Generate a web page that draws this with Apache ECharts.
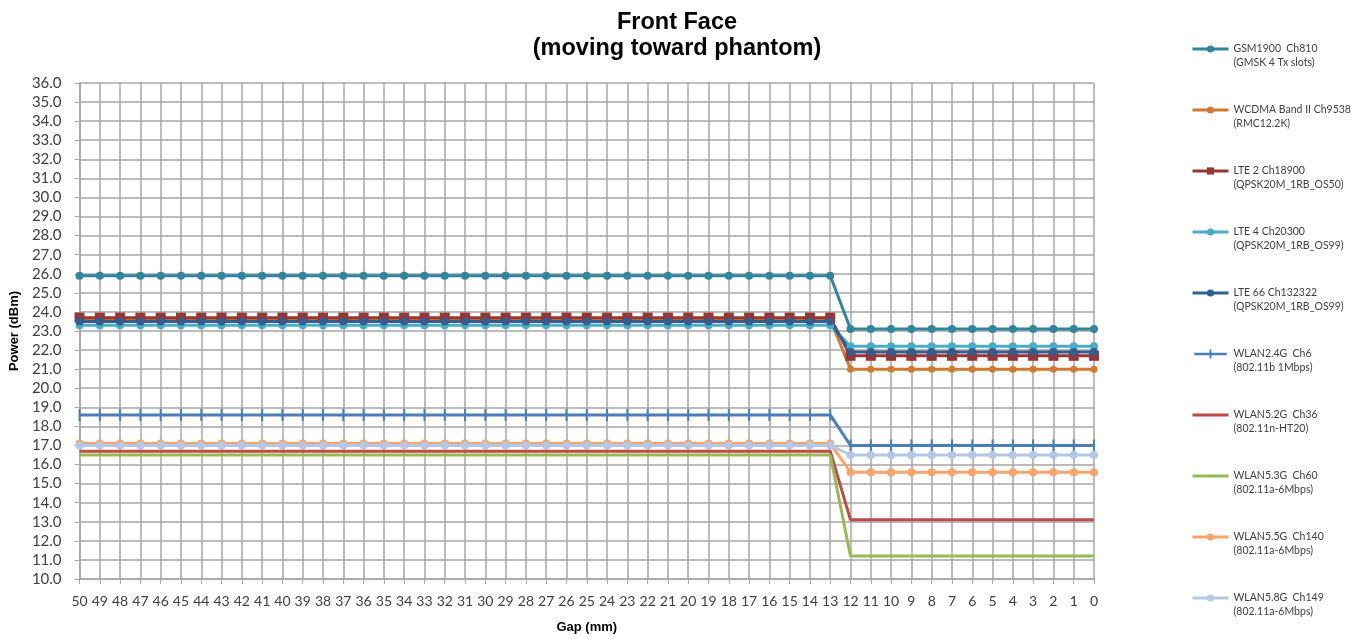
<!DOCTYPE html>
<html>
<head>
<meta charset="utf-8">
<script src="https://cdn.jsdelivr.net/npm/echarts@6/dist/echarts.min.js"></script>
<style>
  html, body { margin: 0; padding: 0; background: #fff; }
  #chart { width: 1361px; height: 639px; }
</style>
</head>
<body>
<div id="chart"></div>
<script>
var gaps = ['50','49','48','47','46','45','44','43','42','41','40','39','38','37','36','35','34','33','32','31','30','29','28','27','26','25','24','23','22','21','20','19','18','17','16','15','14','13','12','11','10','9','8','7','6','5','4','3','2','1','0'];

var gsm1900 = [25.9,25.9,25.9,25.9,25.9,25.9,25.9,25.9,25.9,25.9,25.9,25.9,25.9,25.9,25.9,25.9,25.9,25.9,25.9,25.9,25.9,25.9,25.9,25.9,25.9,25.9,25.9,25.9,25.9,25.9,25.9,25.9,25.9,25.9,25.9,25.9,25.9,25.9,23.1,23.1,23.1,23.1,23.1,23.1,23.1,23.1,23.1,23.1,23.1,23.1,23.1];
var wcdma = [23.6,23.6,23.6,23.6,23.6,23.6,23.6,23.6,23.6,23.6,23.6,23.6,23.6,23.6,23.6,23.6,23.6,23.6,23.6,23.6,23.6,23.6,23.6,23.6,23.6,23.6,23.6,23.6,23.6,23.6,23.6,23.6,23.6,23.6,23.6,23.6,23.6,23.6,21.0,21.0,21.0,21.0,21.0,21.0,21.0,21.0,21.0,21.0,21.0,21.0,21.0];
var lte2 = [23.7,23.7,23.7,23.7,23.7,23.7,23.7,23.7,23.7,23.7,23.7,23.7,23.7,23.7,23.7,23.7,23.7,23.7,23.7,23.7,23.7,23.7,23.7,23.7,23.7,23.7,23.7,23.7,23.7,23.7,23.7,23.7,23.7,23.7,23.7,23.7,23.7,23.7,21.7,21.7,21.7,21.7,21.7,21.7,21.7,21.7,21.7,21.7,21.7,21.7,21.7];
var lte4 = [23.3,23.3,23.3,23.3,23.3,23.3,23.3,23.3,23.3,23.3,23.3,23.3,23.3,23.3,23.3,23.3,23.3,23.3,23.3,23.3,23.3,23.3,23.3,23.3,23.3,23.3,23.3,23.3,23.3,23.3,23.3,23.3,23.3,23.3,23.3,23.3,23.3,23.3,22.2,22.2,22.2,22.2,22.2,22.2,22.2,22.2,22.2,22.2,22.2,22.2,22.2];
var lte66 = [23.5,23.5,23.5,23.5,23.5,23.5,23.5,23.5,23.5,23.5,23.5,23.5,23.5,23.5,23.5,23.5,23.5,23.5,23.5,23.5,23.5,23.5,23.5,23.5,23.5,23.5,23.5,23.5,23.5,23.5,23.5,23.5,23.5,23.5,23.5,23.5,23.5,23.5,21.9,21.9,21.9,21.9,21.9,21.9,21.9,21.9,21.9,21.9,21.9,21.9,21.9];
var wlan24 = [18.6,18.6,18.6,18.6,18.6,18.6,18.6,18.6,18.6,18.6,18.6,18.6,18.6,18.6,18.6,18.6,18.6,18.6,18.6,18.6,18.6,18.6,18.6,18.6,18.6,18.6,18.6,18.6,18.6,18.6,18.6,18.6,18.6,18.6,18.6,18.6,18.6,18.6,17.0,17.0,17.0,17.0,17.0,17.0,17.0,17.0,17.0,17.0,17.0,17.0,17.0];
var wlan52 = [16.7,16.7,16.7,16.7,16.7,16.7,16.7,16.7,16.7,16.7,16.7,16.7,16.7,16.7,16.7,16.7,16.7,16.7,16.7,16.7,16.7,16.7,16.7,16.7,16.7,16.7,16.7,16.7,16.7,16.7,16.7,16.7,16.7,16.7,16.7,16.7,16.7,16.7,13.1,13.1,13.1,13.1,13.1,13.1,13.1,13.1,13.1,13.1,13.1,13.1,13.1];
var wlan53 = [16.5,16.5,16.5,16.5,16.5,16.5,16.5,16.5,16.5,16.5,16.5,16.5,16.5,16.5,16.5,16.5,16.5,16.5,16.5,16.5,16.5,16.5,16.5,16.5,16.5,16.5,16.5,16.5,16.5,16.5,16.5,16.5,16.5,16.5,16.5,16.5,16.5,16.5,11.2,11.2,11.2,11.2,11.2,11.2,11.2,11.2,11.2,11.2,11.2,11.2,11.2];
var wlan55 = [17.1,17.1,17.1,17.1,17.1,17.1,17.1,17.1,17.1,17.1,17.1,17.1,17.1,17.1,17.1,17.1,17.1,17.1,17.1,17.1,17.1,17.1,17.1,17.1,17.1,17.1,17.1,17.1,17.1,17.1,17.1,17.1,17.1,17.1,17.1,17.1,17.1,17.1,15.6,15.6,15.6,15.6,15.6,15.6,15.6,15.6,15.6,15.6,15.6,15.6,15.6];
var wlan58 = [17.0,17.0,17.0,17.0,17.0,17.0,17.0,17.0,17.0,17.0,17.0,17.0,17.0,17.0,17.0,17.0,17.0,17.0,17.0,17.0,17.0,17.0,17.0,17.0,17.0,17.0,17.0,17.0,17.0,17.0,17.0,17.0,17.0,17.0,17.0,17.0,17.0,17.0,16.5,16.5,16.5,16.5,16.5,16.5,16.5,16.5,16.5,16.5,16.5,16.5,16.5];

// legend text: band / channel, then test mode on second line
var names = ['GSM1900  Ch810','WCDMA Band II Ch9538','LTE 2 Ch18900','LTE 4 Ch20300','LTE 66 Ch132322','WLAN2.4G  Ch6','WLAN5.2G  Ch36','WLAN5.3G  Ch60','WLAN5.5G  Ch140','WLAN5.8G  Ch149'];
var modes = ['(GMSK 4 Tx slots)','(RMC12.2K)','(QPSK20M_1RB_OS50)','(QPSK20M_1RB_OS99)','(QPSK20M_1RB_OS99)','(802.11b 1Mbps)','(802.11n-HT20)','(802.11a-6Mbps)','(802.11a-6Mbps)','(802.11a-6Mbps)'];
var values = [gsm1900, wcdma, lte2, lte4, lte66, wlan24, wlan52, wlan53, wlan55, wlan58];
var colors = ['#31859C','#CF7A30','#953735','#4BACC6','#2F5F95','#4A7EBB','#BE4B48','#98B954','#F9A46D','#B3C7E6'];
var symbols = ['circle','circle','rect','circle','circle','rect','none','none','circle','circle'];
var symbolSizes = [8,7,10,8,8,[2,12],0,0,8,8];
// line with a small vertical dash, for the WLAN2.4G legend entry
var dashIcon = 'path://M0,3.5L36,3.5L36,6.5L0,6.5Z M17,0L19,0L19,10L17,10Z';

var chart = echarts.init(document.getElementById('chart'));

var series = [];
var legendData = [];
for (var i = 0; i < names.length; i++) {
  series.push({
    name: names[i],
    type: 'line',
    data: values[i],
    symbol: symbols[i],
    symbolSize: symbolSizes[i],
    showSymbol: symbols[i] != 'none',
    lineStyle: { width: 3, color: colors[i] },
    itemStyle: { color: colors[i] },
    animation: false
  });
  if (symbols[i] == 'none') {
    legendData.push({ name: names[i], itemStyle: { opacity: 0 } });
  } else if (i == 5) {
    legendData.push({ name: names[i], icon: dashIcon });
  } else {
    legendData.push({ name: names[i] });
  }
}

var option = {
  color: colors,
  title: {
    text: 'Front Face\n(moving toward phantom)',
    left: 672,
    textAlign: 'center',
    top: 5,
    textStyle: { fontFamily: 'Liberation Sans', fontSize: 23.5, fontWeight: 'bold', color: '#000', lineHeight: 26 }
  },
  legend: {
    orient: 'vertical',
    left: 1186,
    top: 23,
    itemWidth: 36,
    itemHeight: 9,
    itemGap: 19,
    data: legendData,
    lineStyle: { width: 3 },
    formatter: function (name) {
      return '\n' + name + '\n' + modes[names.indexOf(name)];
    },
    textStyle: { fontFamily: 'Lato', fontSize: 10.5, color: '#404040', lineHeight: 14 }
  },
  grid: { left: 79, right: 267, top: 83, bottom: 59, containLabel: false },
  xAxis: {
    type: 'category',
    data: gaps,
    boundaryGap: false,
    name: 'Gap (mm)',
    nameLocation: 'middle',
    nameGap: 42,
    nameTextStyle: { fontFamily: 'Liberation Sans', fontSize: 13, fontWeight: 'bold', color: '#000' },
    axisLine: { lineStyle: { color: '#A6A6A6', width: 1.5 } },
    axisTick: { show: true, length: 5, alignWithLabel: true, lineStyle: { color: '#A6A6A6' } },
    axisLabel: { interval: 0, margin: 15, fontFamily: 'Lato', fontSize: 14, color: '#404040' },
    splitLine: { show: true, interval: 0, lineStyle: { color: '#A6A6A6', width: 1.5 } }
  },
  yAxis: {
    type: 'value',
    min: 10,
    max: 36,
    interval: 1,
    name: 'Power (dBm)',
    nameLocation: 'middle',
    nameGap: 56,
    nameTextStyle: { fontFamily: 'Liberation Sans', fontSize: 13, fontWeight: 'bold', color: '#000' },
    axisLine: { show: true, lineStyle: { color: '#A6A6A6', width: 1.5 } },
    axisTick: { show: true, length: 5, lineStyle: { color: '#A6A6A6' } },
    axisLabel: {
      margin: 18,
      fontFamily: 'Lato',
      fontSize: 15,
      color: '#404040',
      formatter: function (v) { return v.toFixed(1); }
    },
    splitLine: { show: true, lineStyle: { color: '#A6A6A6', width: 1.5 } }
  },
  series: series
};

chart.setOption(option);
</script>
</body>
</html>
